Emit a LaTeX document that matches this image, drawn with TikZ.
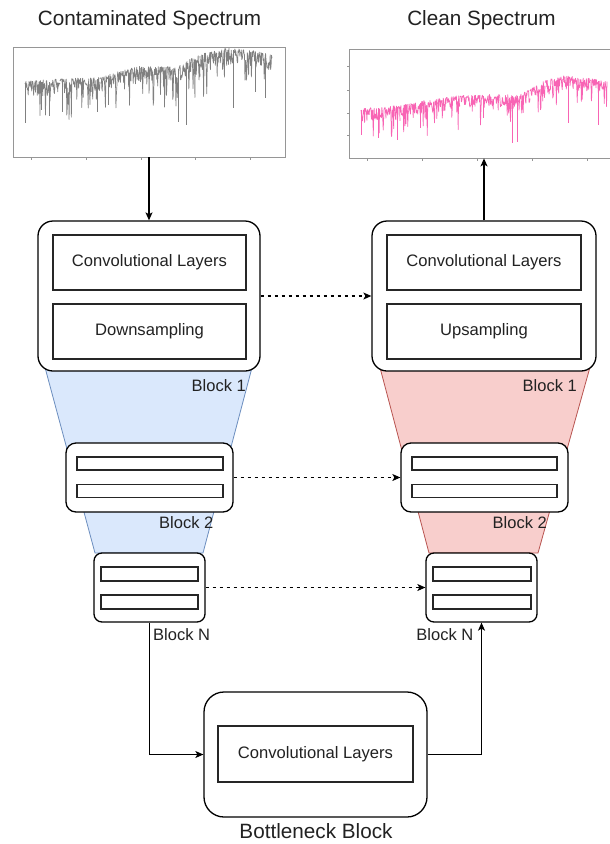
\documentclass[tikz,border=0pt]{standalone}
\usepackage{fontspec}
\setmainfont{Liberation Sans}
\usetikzlibrary{arrows.meta}

\definecolor{txt}{RGB}{34,34,34}
\definecolor{axisgray}{RGB}{150,150,150}
\definecolor{specgray}{RGB}{128,128,128}
\definecolor{specpink}{RGB}{248,100,180}
\definecolor{encfill}{HTML}{DAE8FC}
\definecolor{encline}{HTML}{6C8EBF}
\definecolor{decfill}{HTML}{F8CECC}
\definecolor{decline}{HTML}{B85450}

% polyline spectrum: continuum given as segments x1/y1/x2/y2, noise added downwards
\newcommand\drawspectrum[3]{%
  \foreach \xa/\ya/\xb/\yb in {#2}{%
    \pgfmathtruncatemacro\nn{(\xb-\xa)/0.45}%
    \draw[#1] (\xa,\ya) \foreach \k in {1,...,\nn}{ -- ({\xa+(\xb-\xa)*\k/\nn},{\ya+(\yb-\ya)*\k/\nn+#3}) };
  }%
}

\tikzset{
  outerblk/.style={draw=black, line width=1.3pt, fill=white, inner sep=0pt},
  layerbox/.style={draw=black!85, line width=1.1pt, fill=white, inner sep=0pt, font=\fontsize{16.6}{19}\selectfont, text=txt},
  bar/.style={draw=black!85, line width=1.1pt, fill=white, inner sep=0pt},
  blklabel/.style={font=\fontsize{16.5}{19}\selectfont, text=txt, inner sep=0pt},
  title/.style={font=\fontsize{20.7}{24}\selectfont, text=txt, inner sep=0pt},
  plotbox/.style={draw=axisgray, line width=0.8pt, inner sep=0pt},
  tick/.style={draw=axisgray, line width=0.6pt},
  arr/.style={line width=1.1pt, -{Stealth[length=8pt,width=7pt,inset=2pt]}},
  skip/.style={arr, dash pattern=on 3.5pt off 3.5pt},
}

\begin{document}
\begin{tikzpicture}[x=1pt,y=-1pt]
\clip (0,0) rectangle (610,844);
\fill[white] (0,0) rectangle (610,844);
\pgfmathsetseed{11}

% ---------- titles ----------
\node[title] (ttlin)  at (149.5,20) {Contaminated Spectrum};
\node[title] (ttlout) at (481.5,20) {Clean Spectrum};
\node[title] (ttlbn)  at (316,831) {Bottleneck Block};

% ---------- spectrum panels ----------
\node[plotbox, minimum width=272pt, minimum height=110pt] (contam) at (149,102) {};
\node[plotbox, minimum width=270pt, minimum height=109pt] (clean) at (484,103.5) {};

\foreach \tx in {31,86,141,195,250} \draw[tick] (\tx,157) -- (\tx,159.5);
\foreach \tx in {367,422,477,532,587} \draw[tick] (\tx,158) -- (\tx,160.5);
\foreach \ty in {66,90,113,135} \draw[tick] (349,\ty) -- (346.5,\ty);

\drawspectrum{specgray, line width=0.7pt, line join=round}%
  {25/83/60/81, 60/81/100/79, 100/79/120/73, 120/73/140/68, 140/68/175/69, 175/69/187/63,
   187/63/200/56, 200/56/228/50, 228/50/250/52, 250/52/272/57}%
  {-2+16*rnd^2+30*rnd^8}
\foreach \dx/\dt/\db in {25/83/123, 41/82/110, 49/82/116, 62/81/112, 97/79/112, 108/78/105,
   178/69/122, 186/65/125, 233/50/108, 255/52/92, 265/55/98}
  \draw[specgray, line width=0.8pt] (\dx,\dt) -- (\dx,\db);

\drawspectrum{specpink, line width=0.7pt, line join=round}%
  {361/110/400/107, 400/107/425/102, 425/102/460/97, 460/97/490/96, 490/96/520/96,
   520/96/530/91, 530/91/545/82, 545/82/565/77, 565/77/590/80, 590/80/607/83}%
  {-1.5+13*rnd^2+28*rnd^9}
\foreach \dx/\dt/\db in {361/110/135, 378/108/138, 397/107/140, 420/103/128, 483/96/118,
   512/96/143, 517/96/142, 568/77/123, 598/81/125}
  \draw[specpink, line width=0.8pt] (\dx,\dt) -- (\dx,\db);

% ---------- funnels behind the blocks ----------
\filldraw[fill=encfill, draw=encline, line width=0.8pt] (43,360) -- (254,360) -- (203,553) -- (95,553) -- cycle;
\filldraw[fill=decfill, draw=decline, line width=0.8pt] (378,360) -- (592,360) -- (538,553) -- (429,553) -- cycle;

% ---------- encoder ----------
\node[outerblk, rounded corners=15pt, minimum width=222pt, minimum height=150pt] (enc1) at (149,296) {};
\node[layerbox, minimum width=193pt, minimum height=55pt] (enc1conv) at (149.5,262.5) {Convolutional Layers};
\node[layerbox, minimum width=193pt, minimum height=55pt] (enc1down) at (149.5,331.5) {Downsampling};
\node[blklabel, anchor=east] (enc1lbl) at (246,386) {Block 1};

\node[outerblk, rounded corners=10pt, minimum width=167pt, minimum height=69pt] (enc2) at (149.5,477.5) {};
\node[bar, minimum width=146pt, minimum height=13pt] (enc2a) at (150,463.5) {};
\node[bar, minimum width=146pt, minimum height=13pt] (enc2b) at (150,491) {};
\node[blklabel, anchor=east] (enc2lbl) at (213.5,523) {Block 2};

\node[outerblk, rounded corners=8pt, minimum width=111pt, minimum height=69pt] (encN) at (149.5,587.5) {};
\node[bar, minimum width=97pt, minimum height=14pt] (encNa) at (149.5,574) {};
\node[bar, minimum width=97pt, minimum height=14pt] (encNb) at (149.5,602) {};
\node[blklabel, anchor=west] (encNlbl) at (153,635) {Block N};

% ---------- decoder ----------
\node[outerblk, rounded corners=15pt, minimum width=224pt, minimum height=150pt] (dec1) at (484,296) {};
\node[layerbox, minimum width=194pt, minimum height=55pt] (dec1conv) at (484,262.5) {Convolutional Layers};
\node[layerbox, minimum width=194pt, minimum height=55pt] (dec1up) at (484,331.5) {Upsampling};
\node[blklabel, anchor=east] (dec1lbl) at (577,386) {Block 1};

\node[outerblk, rounded corners=10pt, minimum width=167pt, minimum height=69pt] (dec2) at (484.5,477.5) {};
\node[bar, minimum width=145pt, minimum height=13pt] (dec2a) at (484.5,463.5) {};
\node[bar, minimum width=145pt, minimum height=13pt] (dec2b) at (484.5,491) {};
\node[blklabel, anchor=east] (dec2lbl) at (547,523) {Block 2};

\node[outerblk, rounded corners=8pt, minimum width=111pt, minimum height=69pt] (decN) at (481.5,587.5) {};
\node[bar, minimum width=98pt, minimum height=14pt] (decNa) at (482,574) {};
\node[bar, minimum width=98pt, minimum height=14pt] (decNb) at (482,602) {};
\node[blklabel, anchor=east] (decNlbl) at (473.5,635) {Block N};

% ---------- bottleneck ----------
\node[outerblk, rounded corners=20pt, minimum width=223pt, minimum height=125pt] (bneck) at (315.5,754.5) {};
\node[layerbox, minimum width=195pt, minimum height=56pt] (bneckconv) at (315.5,754) {Convolutional Layers};

% ---------- connectors ----------
\draw[arr] (contam.south) -- (enc1.north);
\draw[arr] (dec1.north) -- (clean.south);
\draw[skip] (enc1.east) -- (dec1.west);
\draw[skip] (enc2.east) -- (dec2.west);
\draw[skip] (encN.east) -- (decN.west);
\draw[arr] (encN.south) |- (bneck.west);
\draw[arr] (bneck.east) -| (decN.south);
\end{tikzpicture}
\end{document}
